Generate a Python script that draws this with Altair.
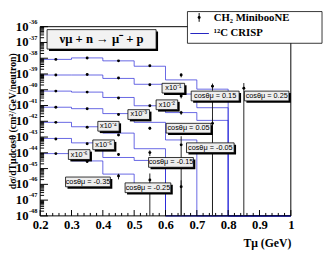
import altair as alt
import pandas as pd

# ---------------- data ----------------
T_EDGES = [0.2, 0.3, 0.4, 0.5, 0.6, 0.7, 0.8, 0.9, 1.0]
T_CENTERS = [0.25, 0.35, 0.45, 0.55, 0.65, 0.75, 0.85]
COS_BINS = ["0.25", "0.15", "0.05", "-0.05", "-0.15", "-0.25", "-0.35"]
SCALE_POW = [0, 1, 2, 3, 4, 5, 6]
UNIT = 1e-38  # cm^2/GeV/neutron

# 12C CRISP, per 0.1 GeV bin starting at T=0.2 (unscaled, units of 1e-38)
crisp_p025 = [0.843, 1.045, 0.681, 0.310, 0.0422, 0.0109]
crisp_p015 = [0.861, 0.861, 0.523, 0.222, 0.0534, 0.00726]
crisp_p005 = [0.819, 0.710, 0.324, 0.0966, 0.0356, 0.0114]
crisp_m005 = [0.780, 0.630, 0.308, 0.0855, 0.00656]
crisp_m015 = [0.855, 0.450, 0.178, 0.0182]
crisp_m025 = [0.813, 0.428, 0.0505, 0.0329]
crisp_m035 = [0.891, 0.306, 0.0447, 0.0070]

# CH2 MiniBooNE data at bin centres (unscaled, units of 1e-38) and errors
mb_p025 = [0.843, 1.045, 0.681, 0.334, 0.0861, 0.0167, 0.0126]
mb_p025_err = [0.06, 0.07, 0.05, 0.03, 0.025, 0.008, 0.014]
mb_p015 = [0.861, 0.924, 0.561, 0.207, 0.0402, 0.0227]
mb_p015_err = [0.06, 0.06, 0.04, 0.02, 0.012, 0.026]
mb_p005 = [0.819, 0.710, 0.302, 0.0966, 0.0356, 0.0074]
mb_p005_err = [0.06, 0.05, 0.025, 0.012, 0.010, 0.009]
mb_m005 = [0.780, 0.630, 0.267, 0.0363, 0.0032]
mb_m005_err = [0.06, 0.05, 0.025, 0.008, 0.008]
mb_m015 = [0.855, 0.419, 0.134, 0.0103]
mb_m015_err = [0.07, 0.04, 0.015, 0.004]
mb_m025 = [0.757, 0.372, 0.0774, 0.0019, 0.0007]
mb_m025_err = [0.06, 0.04, 0.012, 0.003, 0.0011]
mb_m035 = [0.891, 0.285, 0.0336]
mb_m035_err = [0.08, 0.05, 0.013]

crisp_all = [crisp_p025, crisp_p015, crisp_p005, crisp_m005, crisp_m015, crisp_m025, crisp_m035]
mb_all = [mb_p025, mb_p015, mb_p005, mb_m005, mb_m015, mb_m025, mb_m035]
mb_err_all = [mb_p025_err, mb_p015_err, mb_p005_err, mb_m005_err, mb_m015_err, mb_m025_err, mb_m035_err]

# annotation boxes (data coordinates)
ann_text = ["x10⁻¹", "x10⁻²", "x10⁻³", "x10⁻⁴", "x10⁻⁵", "x10⁻⁶",
            "cosθμ = 0.25", "cosθμ = 0.15", "cosθμ = 0.05", "cosθμ = -0.05",
            "cosθμ = -0.15", "cosθμ = -0.25", "cosθμ = -0.35"]
ann_x1 = [0.589, 0.570, 0.480, 0.384, 0.368, 0.290, 0.852, 0.682, 0.602, 0.667, 0.546, 0.471, 0.281]
ann_x2 = [0.661, 0.639, 0.549, 0.452, 0.437, 0.359, 0.994, 0.835, 0.745, 0.819, 0.689, 0.617, 0.424]
ann_ytop = [2.56e-40, 2.27e-41, 5.46e-42, 9.86e-43, 6.56e-44, 1.58e-44, 8.19e-41, 8.19e-41,
            7.41e-43, 4.28e-44, 5.05e-45, 1.24e-46, 2.91e-46]
ann_ybot = [6.2e-41, 5.46e-42, 1.31e-42, 2.37e-43, 1.58e-44, 3.79e-45, 1.97e-41, 1.97e-41,
            1.78e-43, 1.03e-44, 1.21e-45, 2.98e-47, 7.0e-47]
reaction_text = ["νμ + n  →  μ⁻ + p"]
reaction_x = [0.222, 0.570]
reaction_y = [6.5e-37, 3.8e-38]

# y tick labels: "10" with a small exponent
y_exponents = [-48, -47, -46, -45, -44, -43, -42, -41, -40, -39, -38, -37, -36]
y_title = "dσ/dTμdcosθ (cm²/GeV/neutron)"
x_title = "Tμ (GeV)"

Y_MIN, Y_MAX = 1e-48, 1e-36
W, H = 257, 194

# ---------------- tables ----------------
curve_rows = []
for i, vals in enumerate(crisp_all):
    f = UNIT * 10.0 ** (-SCALE_POW[i])
    for j, t in enumerate(T_EDGES):
        v = vals[j] * f if j < len(vals) else Y_MIN
        curve_rows.append({"series": COS_BINS[i], "T": t, "v": v})
curves = pd.DataFrame(curve_rows)

pt_rows = []
for i, vals in enumerate(mb_all):
    f = UNIT * 10.0 ** (-SCALE_POW[i])
    for j, val in enumerate(vals):
        v = val * f
        e = mb_err_all[i][j] * f
        pt_rows.append({"series": COS_BINS[i], "T": T_CENTERS[j], "v": v,
                        "lo": max(v - e, Y_MIN), "hi": v + e})
points = pd.DataFrame(pt_rows)

ann = pd.DataFrame({"text": ann_text, "x1": ann_x1, "x2": ann_x2, "y1": ann_ytop, "y2": ann_ybot})
ann["xm"] = (ann["x1"] + ann["x2"]) / 2
ann["ym"] = (ann["y1"] * ann["y2"]) ** 0.5
react = pd.DataFrame({"text": reaction_text, "x1": [reaction_x[0]], "x2": [reaction_x[1]],
                      "y1": [reaction_y[0]], "y2": [reaction_y[1]]})
react["xm"] = (react["x1"] + react["x2"]) / 2
react["ym"] = (react["y1"] * react["y2"]) ** 0.5

ylab = pd.DataFrame({"v": [10.0 ** e for e in y_exponents],
                     "base": ["10"] * len(y_exponents),
                     "exp": [str(e) for e in y_exponents]})

x_major = T_EDGES
x_minor = [round(0.2 + 0.02 * k, 2) for k in range(41) if k % 5 != 0]
y_major = [10.0 ** e for e in y_exponents]
y_minor = [m * 10.0 ** e for e in range(-48, -36) for m in range(2, 10)]

xs = alt.Scale(domain=[0.2, 1.0], nice=False, zero=False)
ys = alt.Scale(type="log", domain=[Y_MIN, Y_MAX], nice=False)

SERIF = "Liberation Serif"
SANS = "Liberation Sans"
LINE_COL = "#2424d8"

x_axis = alt.Axis(values=x_major, format=".1~f", ticks=False, domain=False, grid=False,
                  labelFont=SERIF, labelFontWeight="bold", labelFontSize=13, labelColor="black",
                  labelPadding=3, labelFlush=False, labelOverlap=False,
                  title=x_title, titleFont=SERIF, titleFontWeight="bold", titleFontSize=12,
                  titleColor="black", titleAnchor="end", titleAlign="right", titleX=W, titleY=31,
                  titleBaseline="alphabetic")

XQ = lambda f: alt.X(f, type="quantitative", scale=xs, axis=x_axis)
YQ = lambda f: alt.Y(f, type="quantitative", scale=ys, axis=None)

one = pd.DataFrame({"a": [0]})

# frame
frame = alt.layer(
    alt.Chart(one).mark_rule(color="black").encode(x=alt.value(0), y=alt.value(0), y2=alt.value(H)),
    alt.Chart(one).mark_rule(color="black").encode(x=alt.value(W), y=alt.value(0), y2=alt.value(H)),
    alt.Chart(one).mark_rule(color="black").encode(x=alt.value(0), x2=alt.value(W), y=alt.value(0)),
    alt.Chart(one).mark_rule(color="black").encode(x=alt.value(0), x2=alt.value(W), y=alt.value(H)),
)

xt_major = alt.Chart(pd.DataFrame({"t": x_major})).mark_rule(color="black").encode(
    x=XQ("t"), y=alt.value(H), y2=alt.value(H - 6))
xt_minor = alt.Chart(pd.DataFrame({"t": x_minor})).mark_rule(color="black").encode(
    x=XQ("t"), y=alt.value(H), y2=alt.value(H - 3))
yt_major = alt.Chart(pd.DataFrame({"v": y_major})).mark_rule(color="black").encode(
    y=YQ("v"), x=alt.value(0), x2=alt.value(8))
yt_minor = alt.Chart(pd.DataFrame({"v": y_minor})).mark_rule(color="black").encode(
    y=YQ("v"), x=alt.value(0), x2=alt.value(4))

ylab_base = alt.Chart(ylab).mark_text(font=SERIF, fontSize=13, fontWeight="bold", color="black",
                                      align="right", baseline="middle").encode(
    y=YQ("v"), x=alt.value(-12), text="base:N")
ylab_exp = alt.Chart(ylab).mark_text(font=SERIF, fontSize=6.5, fontWeight="bold", color="black",
                                     align="left", baseline="middle", dy=-5).encode(
    y=YQ("v"), x=alt.value(-11.5), text="exp:N")
ytitle = alt.Chart(one).mark_text(text=y_title, font=SERIF, fontSize=10, fontWeight="bold",
                                  color="black", angle=270, align="center", baseline="middle").encode(
    x=alt.value(-28), y=alt.value(H / 2))

lines = alt.Chart(curves).mark_line(interpolate="step-after", color=LINE_COL, opacity=0.7,
                                    strokeWidth=1).encode(
    x=XQ("T"), y=YQ("v"), detail="series:N")

ebars = alt.Chart(points).mark_rule(color="#222222", strokeWidth=1).encode(
    x=XQ("T"), y=YQ("lo"), y2="hi:Q")
dots = alt.Chart(points).mark_circle(color="black", size=9, opacity=1).encode(
    x=XQ("T"), y=YQ("v"))


def boxes(df, font, size, weight, fill):
    shadow = alt.Chart(df).mark_rect(color="black", xOffset=2, x2Offset=2, yOffset=2, y2Offset=2).encode(
        x=XQ("x1"), x2="x2:Q", y=YQ("y1"), y2="y2:Q")
    box = alt.Chart(df).mark_rect(fill=fill, stroke="black", strokeWidth=0.8).encode(
        x=XQ("x1"), x2="x2:Q", y=YQ("y1"), y2="y2:Q")
    txt = alt.Chart(df).mark_text(font=font, fontSize=size, fontWeight=weight, color="black",
                                  align="center", baseline="middle").encode(
        x=XQ("xm"), y=YQ("ym"), text="text:N")
    return [shadow, box, txt]


ann_layers = boxes(ann, SANS, 7.5, "normal", "#eeeeee")
react_layers = boxes(react, SERIF, 13, "bold", "#f2f2f2")

# legend
leg_box = alt.Chart(one).mark_rect(fill="white", stroke="black", strokeWidth=0.8).encode(
    x=alt.value(151), x2=alt.value(289), y=alt.value(-15.5), y2=alt.value(17))
leg_bar = alt.Chart(one).mark_rule(color="black").encode(
    x=alt.value(163), y=alt.value(-14), y2=alt.value(-5))
leg_dot = alt.Chart(one).mark_circle(color="black", size=9, opacity=1).encode(
    x=alt.value(163), y=alt.value(-9.5))
leg_line = alt.Chart(one).mark_rule(color="#2020c0").encode(
    x=alt.value(154), x2=alt.value(173), y=alt.value(7))
leg_t1 = alt.Chart(one).mark_text(text="CH₂ MinibooNE", font=SERIF, fontSize=11, fontWeight="bold",
                                  color="black", align="left", baseline="middle").encode(
    x=alt.value(178), y=alt.value(-9))
leg_t2 = alt.Chart(one).mark_text(text="¹²C CRISP", font=SERIF, fontSize=11, fontWeight="bold",
                                  color="black", align="left", baseline="middle").encode(
    x=alt.value(178), y=alt.value(7))

chart = alt.layer(
    lines, frame, xt_major, xt_minor, yt_major, yt_minor, ylab_base, ylab_exp, ytitle, ebars, dots,
    *ann_layers, *react_layers,
    leg_box, leg_bar, leg_dot, leg_line, leg_t1, leg_t2,
).properties(
    width=W, height=H,
    padding={"left": 33, "top": 16, "right": 33, "bottom": 39},
    autosize=alt.AutoSizeParams(type="none"),
    background="white",
).configure_view(stroke="transparent")

chart.save("out.html", embed_options={"renderer": "svg", "actions": False})
